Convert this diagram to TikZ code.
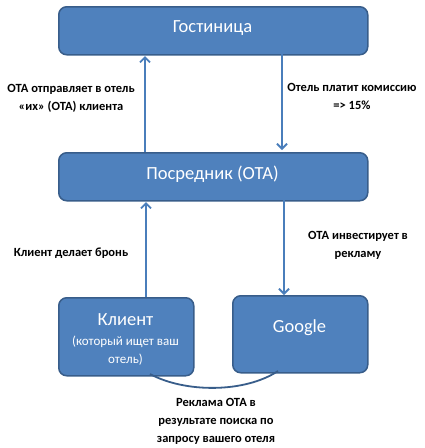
\documentclass[tikz,border=0pt]{standalone}
\usepackage{fontspec}
\setmainfont{Carlito}
\usetikzlibrary{arrows.meta}
\definecolor{boxfill}{HTML}{4F81BD}
\definecolor{boxline}{HTML}{385D8A}
\definecolor{arrowc}{HTML}{4A7EBB}
\tikzset{
  blockbox/.style={draw=boxline, line width=1.5pt, fill=boxfill, rounded corners=8pt, text=white, inner sep=0pt, anchor=north west},
  boxtext/.style={text=white, font=\fontsize{18.5}{20}\selectfont},
  flow/.style={draw=arrowc, line width=2pt, -{Straight Barb[length=5pt,width=10pt,line width=1.8pt]}},
  lbl/.style={font=\fontsize{12.5}{18}\selectfont\bfseries, align=center, text=black},
}
\begin{document}
\begin{tikzpicture}[x=1pt,y=-1pt]
\useasboundingbox (0,0) rectangle (424,448);
\node[blockbox, minimum width=309pt, minimum height=48pt] (hotel) at (58,6) {};
\node[boxtext] (hoteltxt) at (212.5,28) {Гостиница};
\node[blockbox, minimum width=309pt, minimum height=48pt] (ota) at (58,152) {};
\node[boxtext] (otatxt) at (212.5,174) {Посредник (ОТА)};
\node[blockbox, minimum width=135pt, minimum height=78pt] (client) at (58,297) {};
\node[boxtext] (clienttxt) at (125.5,320) {Клиент};
\node[text=white, font=\fontsize{13}{18}\selectfont, align=center] (clientsub) at (125.5,351) {(который ищет ваш\\отель)};
\node[blockbox, minimum width=135pt, minimum height=77pt] (google) at (232,295) {};
\node[boxtext] (googletxt) at (299.5,328) {Google};

\coordinate (a1s) at (145,152); \coordinate (a1e) at (145,56);
\coordinate (a2s) at (282,54); \coordinate (a2e) at (282,150);
\coordinate (a3s) at (146,297); \coordinate (a3e) at (146,202);
\coordinate (a4s) at (284,200); \coordinate (a4e) at (284,295);
\draw[flow] (a1s) -- (a1e);
\draw[flow] (a2s) -- (a2e);
\draw[flow] (a3s) -- (a3e);
\draw[flow] (a4s) -- (a4e);

\coordinate (c1) at (150,374);
\coordinate (c2) at (278,371);
\draw[boxline, line width=1.8pt] (c1) .. controls (185,393) and (245,393) .. (c2);

\node[lbl] (l1) at (71,98) {ОТА отправляет в отель\\«их» (ОТА) клиента};
\node[lbl] (l2) at (352,96) {Отель платит комиссию\\=> 15\%};
\node[lbl] (l3) at (71,253) {Клиент делает бронь};
\node[lbl] (l4) at (358,245) {ОТА инвестирует в\\рекламу};
\node[lbl] (l5) at (216,421) {Реклама ОТА в\\результате поиска по\\запросу вашего отеля};
\end{tikzpicture}
\end{document}
